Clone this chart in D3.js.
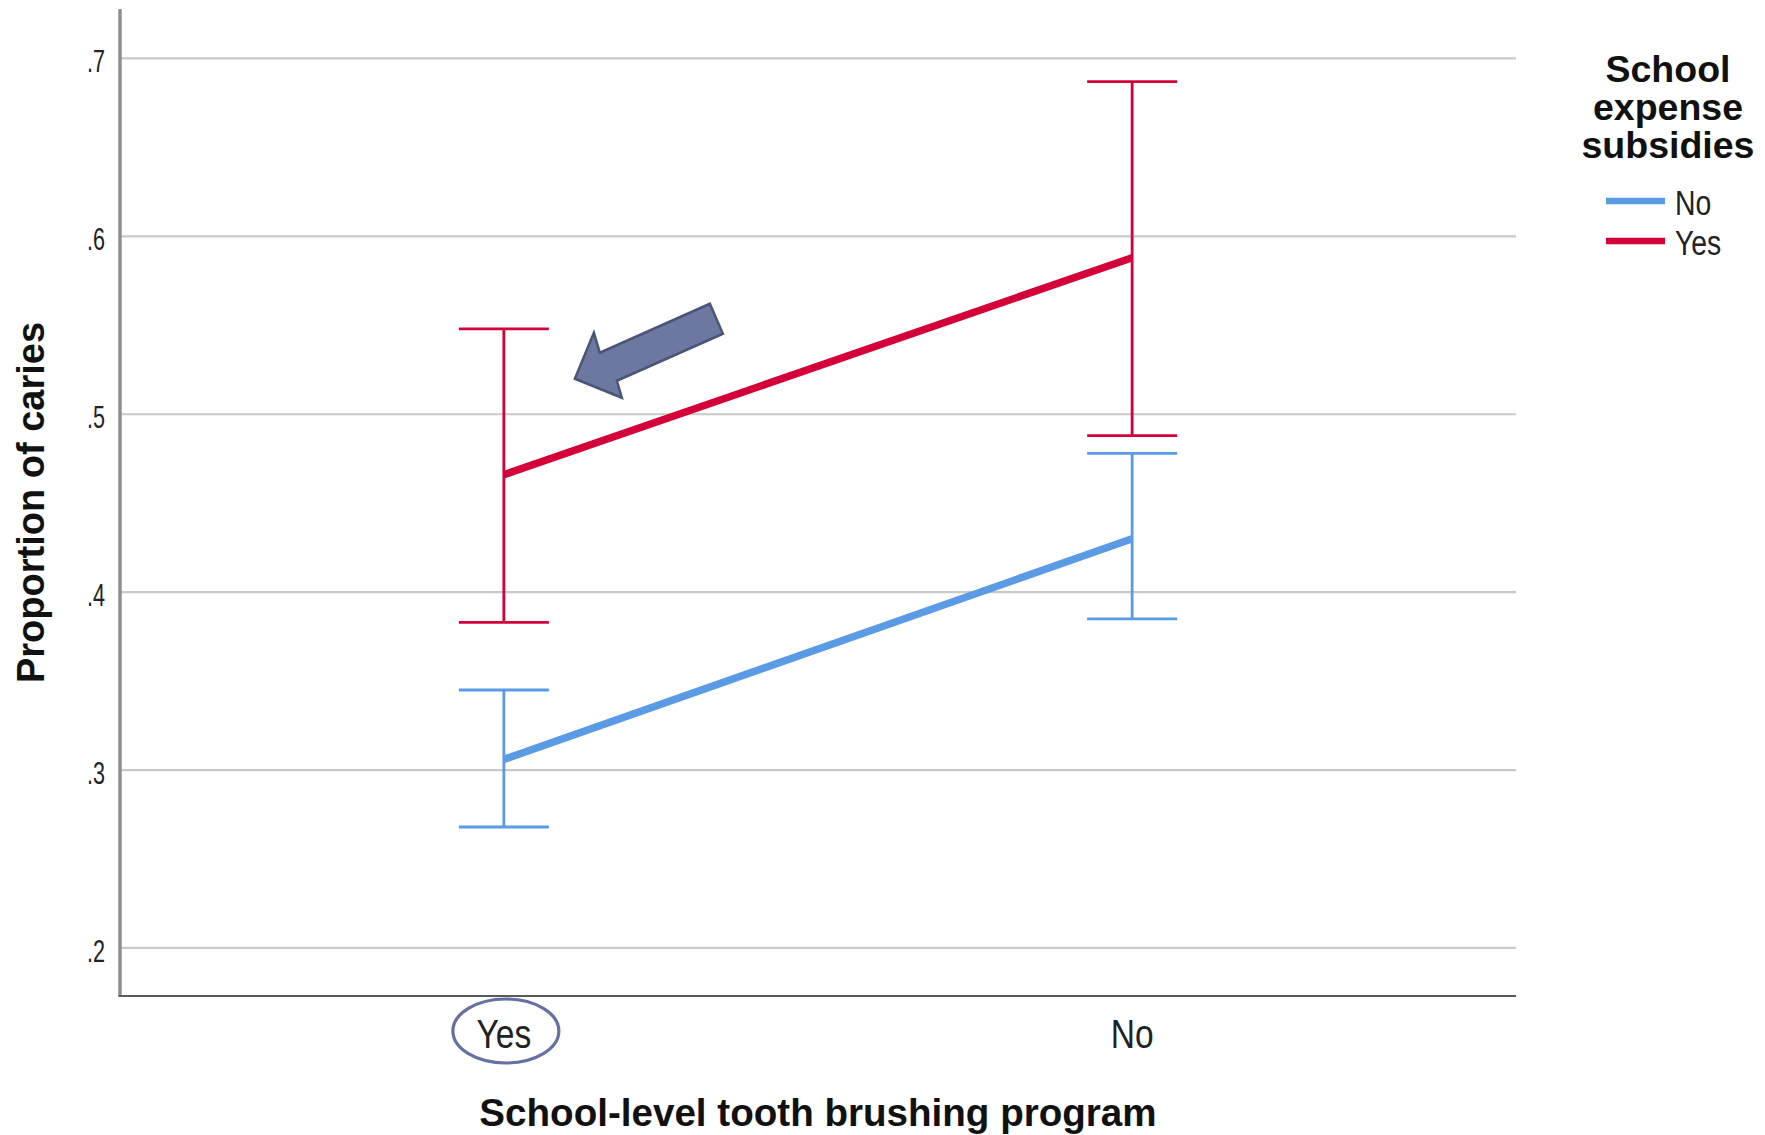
<!DOCTYPE html>
<html>
<head>
<meta charset="utf-8">
<script src="https://cdn.jsdelivr.net/npm/d3@7"></script>
<style>
  html, body { margin: 0; padding: 0; background: #ffffff; }
  svg { display: block; }
</style>
</head>
<body>
<svg id="chart" width="1765" height="1135"></svg>
<script>
// Tooth brushing program (x) by school expense subsidies (series)
const categories = ["Yes", "No"];
const seriesNames = ["No", "Yes"];
const seriesColors = ["#5b9be6", "#d4003a"];

const meanNo = [0.306, 0.430];
const lowerNo = [0.268, 0.385];
const upperNo = [0.345, 0.478];

const meanYes = [0.466, 0.588];
const lowerYes = [0.383, 0.488];
const upperYes = [0.548, 0.687];

const yTicks = [0.2, 0.3, 0.4, 0.5, 0.6, 0.7];
const yTickLabels = [".2", ".3", ".4", ".5", ".6", ".7"];

const xTitle = "School-level tooth brushing program";
const yTitle = "Proportion of caries";
const legendTitle = ["School", "expense", "subsidies"];

const series = [
  { name: seriesNames[0], color: seriesColors[0], mean: meanNo, lo: lowerNo, hi: upperNo },
  { name: seriesNames[1], color: seriesColors[1], mean: meanYes, lo: lowerYes, hi: upperYes }
];

const svg = d3.select("#chart");
const plot = { left: 120, right: 1516, top: 9, bottom: 996 };
const font = "'Liberation Sans', Arial, sans-serif";

const x = d3.scalePoint().domain(categories).range([plot.left, plot.right]).padding(0.611);
const y = d3.scaleLinear().domain([0.173, 0.7278]).range([plot.bottom, plot.top]);

// horizontal gridlines
svg.append("g").selectAll("line").data(yTicks).join("line")
  .attr("x1", plot.left).attr("x2", plot.right)
  .attr("y1", d => y(d)).attr("y2", d => y(d))
  .attr("stroke", "#c9c9c9").attr("stroke-width", 2.2);

// y axis tick labels (condensed lettering)
svg.append("g").selectAll("text").data(yTicks).join("text")
  .attr("transform", d => `translate(${plot.left - 15},${y(d) + 14}) scale(0.72,1.05)`)
  .attr("text-anchor", "end")
  .attr("font-family", font).attr("font-size", 30).attr("fill", "#222")
  .text((d, i) => yTickLabels[i]);

// axis lines
svg.append("line")
  .attr("x1", plot.left).attr("x2", plot.left)
  .attr("y1", plot.top).attr("y2", plot.bottom)
  .attr("stroke", "#8f8f8f").attr("stroke-width", 3.5);
svg.append("line")
  .attr("x1", plot.left - 1.5).attr("x2", plot.right)
  .attr("y1", plot.bottom).attr("y2", plot.bottom)
  .attr("stroke", "#5a5a5a").attr("stroke-width", 2);

// x tick labels
svg.append("g").selectAll("text").data(categories).join("text")
  .attr("transform", d => `translate(${x(d)},${plot.bottom + 52}) scale(0.86,1.05)`)
  .attr("text-anchor", "middle")
  .attr("font-family", font).attr("font-size", 39).attr("fill", "#222")
  .text(d => d);

// axis titles
svg.append("text")
  .attr("x", (plot.left + plot.right) / 2).attr("y", 1126)
  .attr("text-anchor", "middle")
  .attr("font-family", font).attr("font-weight", "bold").attr("font-size", 38.6).attr("fill", "#111")
  .text(xTitle);
svg.append("text")
  .attr("transform", `translate(44,${(plot.top + plot.bottom) / 2}) rotate(-90)`)
  .attr("text-anchor", "middle")
  .attr("font-family", font).attr("font-weight", "bold").attr("font-size", 38).attr("fill", "#111")
  .text(yTitle);

// error bars
const capHalf = 45;
const bars = svg.append("g");
series.forEach(s => {
  const g = bars.append("g").attr("stroke", s.color).attr("stroke-width", 2.8).attr("fill", "none");
  categories.forEach((c, i) => {
    const cx = x(c);
    g.append("line").attr("x1", cx).attr("x2", cx).attr("y1", y(s.hi[i])).attr("y2", y(s.lo[i]));
    g.append("line").attr("x1", cx - capHalf).attr("x2", cx + capHalf).attr("y1", y(s.hi[i])).attr("y2", y(s.hi[i]));
    g.append("line").attr("x1", cx - capHalf).attr("x2", cx + capHalf).attr("y1", y(s.lo[i])).attr("y2", y(s.lo[i]));
  });
});

// mean lines
const line = d3.line().x((d, i) => x(categories[i])).y(d => y(d));
svg.append("g").selectAll("path").data(series).join("path")
  .attr("d", s => line(s.mean))
  .attr("fill", "none")
  .attr("stroke", s => s.color)
  .attr("stroke-width", 7.5);

// legend
const lg = svg.append("g");
lg.selectAll("text.title").data(legendTitle).join("text")
  .attr("class", "title")
  .attr("x", 1668).attr("y", (d, i) => 82 + i * 38)
  .attr("text-anchor", "middle")
  .attr("font-family", font).attr("font-weight", "bold").attr("font-size", 37.5).attr("fill", "#111")
  .text(d => d);
series.forEach((s, i) => {
  const ly = 201 + i * 40;
  lg.append("line").attr("x1", 1606).attr("x2", 1665).attr("y1", ly).attr("y2", ly)
    .attr("stroke", s.color).attr("stroke-width", 6.5);
  lg.append("text")
    .attr("transform", `translate(1675,${ly + 14}) scale(0.86,1.05)`)
    .attr("font-family", font).attr("font-size", 33).attr("fill", "#222")
    .text(s.name);
});

// callout arrow pointing at the subsidised, brushing-program point
const ax = x(categories[0]), ay = y(meanYes[0]);
const arrowShape = [[71, -96], [90, -142], [96, -122], [206, -171], [219, -141], [113, -94], [118, -77]];
svg.append("polygon")
  .attr("points", arrowShape.map(p => [ax + p[0], ay + p[1]].join(",")).join(" "))
  .attr("fill", "#6c789f").attr("stroke", "#4b5578").attr("stroke-width", 2.5)
  .attr("stroke-linejoin", "miter");

// highlight ring around the "Yes" category label
svg.append("ellipse")
  .attr("cx", x(categories[0]) + 2).attr("cy", plot.bottom + 35)
  .attr("rx", 53).attr("ry", 32)
  .attr("fill", "none").attr("stroke", "#6670a2").attr("stroke-width", 3.2);
</script>
</body>
</html>
